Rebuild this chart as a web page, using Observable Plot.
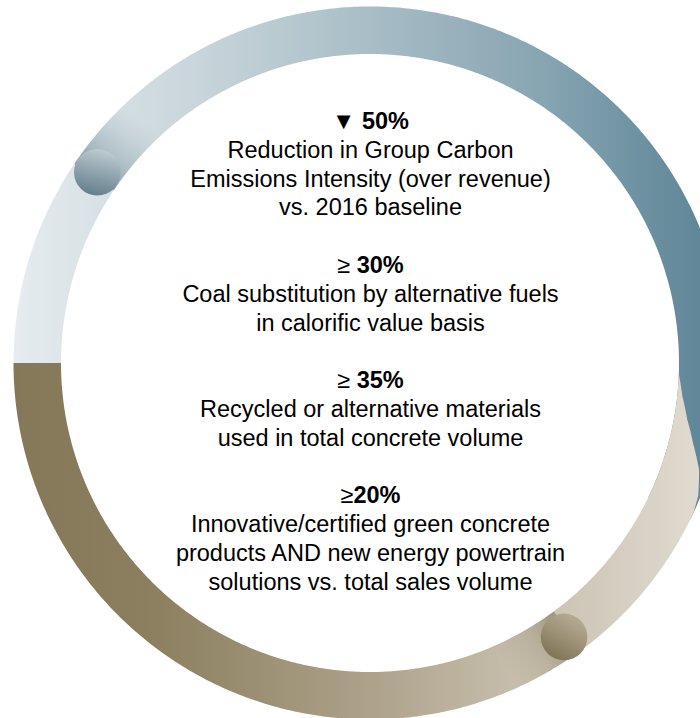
<!DOCTYPE html>
<html>
<head>
<meta charset="utf-8">
<script src="https://cdn.jsdelivr.net/npm/d3@7"></script>
<script src="https://cdn.jsdelivr.net/npm/@observablehq/plot@0.6"></script>
<style>
  html, body { margin: 0; padding: 0; background: #ffffff; }
  #chart svg { display: block; }
</style>
</head>
<body>
<div id="chart"></div>
<script>
// ---- content ----
const headers = ["▼ 50%", "≥ 30%", "≥ 35%", "≥20%"];
const descriptions = [
  ["Reduction in Group Carbon", "Emissions Intensity (over revenue)", "vs. 2016 baseline"],
  ["Coal substitution by alternative fuels", "in calorific value basis"],
  ["Recycled or alternative materials", "used in total concrete volume"],
  ["Innovative/certified green concrete", "products AND new energy powertrain", "solutions vs. total sales volume"]
];

// ---- ring geometry (degrees, counter-clockwise from the right) ----
const arcNames  = ["blue", "brown"];
const arcFrom   = [180, 180];
const arcTo     = [-26, 358];
const knobAngle = [145, 305.3];
const knobDist  = [333.5, 335];
const tailFrom  = [146, 306.5];
const tailTo    = [133, 294];
const rInner = 309, rOuter = 356.5, knobR = 23.3;

// taper of the brown arc's end (angle below the right horizontal -> thickness)
const taperDeg   = [2, 6, 10, 14, 18, 22, 25];
const taperWidth = [0, 5, 13, 24, 37, 45, 47.5];
const taper = d3.scaleLinear().domain(taperDeg).range(taperWidth).clamp(true);

function ring(from, to, outerFn) {
  const n = Math.ceil(Math.abs(to - from) * 2);
  return d3.range(n + 1).map(i => {
    const a = from + (to - from) * i / n;
    const t = a * Math.PI / 180;
    const ro = outerFn(a);
    return {xi: rInner * Math.cos(t), yi: rInner * Math.sin(t), xo: ro * Math.cos(t), yo: ro * Math.sin(t)};
  });
}
const polar = (a, r) => [r * Math.cos(a * Math.PI / 180), r * Math.sin(a * Math.PI / 180)];

const blueArc  = ring(arcFrom[0], arcTo[0], () => rOuter);
const brownArc = ring(arcFrom[1], arcTo[1], a => rInner + taper(360 - a));
const blueTail  = ring(tailFrom[0], tailTo[0], () => rOuter);
const brownTail = ring(tailFrom[1], tailTo[1], () => rOuter);
const knobs = knobAngle.map((a, i) => {
  const [x, y] = polar(a, knobDist[i]);
  return {name: arcNames[i], x, y};
});

// ---- text lines laid out in rows ----
const lines = [];
let row = 0;
headers.forEach((h, b) => {
  lines.push({text: h, row, bold: true});
  row++;
  descriptions[b].forEach(d => { lines.push({text: d, row, bold: false}); row++; });
  row++; // blank row between blocks
});
const firstRow = 121, lineStep = 28.8, centerY = 363;
lines.forEach(l => { l.x = 0; l.y = centerY - (firstRow + l.row * lineStep); });

const font = "'Liberation Sans', Arial, Helvetica, sans-serif";

const chart = Plot.plot({
  width: 700,
  height: 718,
  margin: 0,
  style: {fontFamily: font, background: "#ffffff"},
  x: {domain: [-370, 330], axis: null},
  y: {domain: [-355, 363], axis: null},
  marks: [
    Plot.area(blueArc,  {x1: "xi", y1: "yi", x2: "xo", y2: "yo", fill: "url(#gBlue)"}),
    Plot.area(blueTail, {x1: "xi", y1: "yi", x2: "xo", y2: "yo", fill: "url(#gBlueTail)"}),
    Plot.area(brownArc, {x1: "xi", y1: "yi", x2: "xo", y2: "yo", fill: "url(#gBrown)"}),
    Plot.area(brownTail,{x1: "xi", y1: "yi", x2: "xo", y2: "yo", fill: "url(#gBrownTail)"}),
    Plot.dot(knobs.filter(k => k.name === "blue"),  {x: "x", y: "y", r: knobR, fill: "url(#gKnobBlue)", stroke: "none"}),
    Plot.dot(knobs.filter(k => k.name === "brown"), {x: "x", y: "y", r: knobR, fill: "url(#gKnobBrown)", stroke: "none"}),
    Plot.text(lines.filter(l => l.bold),  {x: "x", y: "y", text: "text", fontSize: 23.5, fontWeight: "bold", fill: "#000000"}),
    Plot.text(lines.filter(l => !l.bold), {x: "x", y: "y", text: "text", fontSize: 23.5, fill: "#000000"})
  ]
});

document.getElementById("chart").appendChild(chart);

// ---- gradients ----
const svg = d3.select(chart);
const defs = svg.insert("defs", ":first-child");
const sx = chart.scale("x"), sy = chart.scale("y");
function linear(id, x1, y1, x2, y2, stops, user) {
  const g = defs.append("linearGradient").attr("id", id)
    .attr("x1", x1).attr("y1", y1).attr("x2", x2).attr("y2", y2);
  if (user) g.attr("gradientUnits", "userSpaceOnUse");
  stops.forEach(([o, c, op]) => g.append("stop").attr("offset", o).attr("stop-color", c).attr("stop-opacity", op == null ? 1 : op));
}
function tailGradient(id, i, stops) {
  const mid = (rInner + rOuter) / 2;
  const [ax, ay] = polar(knobAngle[i], mid);
  const [bx, by] = polar(tailTo[i], mid);
  linear(id, sx.apply(ax), sy.apply(ay), sx.apply(bx), sy.apply(by), stops, true);
}
linear("gBlue", 0, 0, 1, 0, [[0, "#e6ecef"], [0.26, "#c8d5da"], [0.5, "#a8bdc6"], [0.75, "#86a4b1"], [0.89, "#6c90a0"], [1, "#5a8294"]]);
linear("gBrown", 0, 0, 1, 0, [[0, "#857858"], [0.2, "#8b7f5f"], [0.5, "#ab9f87"], [0.75, "#c8c0af"], [1, "#e0dad0"]]);
tailGradient("gBlueTail", 0, [[0, "#5f7f8e", 0.6], [0.35, "#74919d", 0.38], [1, "#9fb3bc", 0]]);
tailGradient("gBrownTail", 1, [[0, "#6e6244", 0.45], [0.4, "#7d7152", 0.22], [1, "#8b7f5f", 0]]);
linear("gKnobBlue", 0.6, 0, 0.35, 1, [[0, "#c0cbd0"], [0.5, "#8fa4ae"], [1, "#627f8c"]]);
linear("gKnobBrown", 0.8, 0, 0.25, 1, [[0, "#b9af9a"], [0.5, "#9d9277"], [1, "#7d7153"]]);

// ---- regular-weight "≥" sign in bold headers ----
svg.selectAll("text").each(function () {
  const t = this.textContent;
  if (t.startsWith("≥")) {
    const sel = d3.select(this);
    sel.text(null);
    sel.append("tspan").attr("font-weight", "normal").text("≥");
    sel.append("tspan").text(t.slice(1));
  }
});
</script>
</body>
</html>
